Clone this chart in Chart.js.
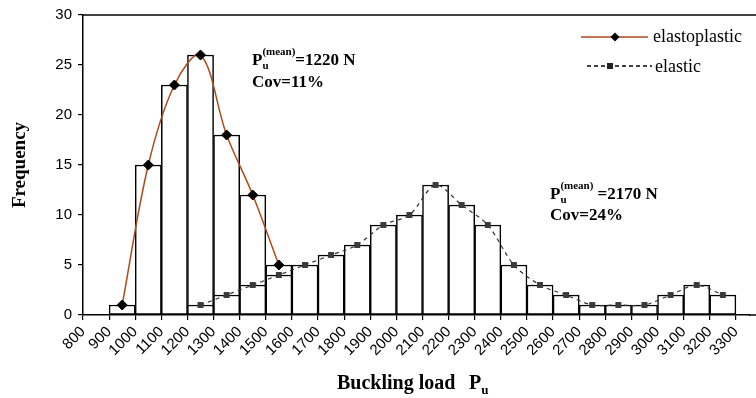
<!DOCTYPE html>
<html><head><meta charset="utf-8">
<script src="https://cdn.jsdelivr.net/npm/chart.js@4/dist/chart.umd.min.js"></script>
<style>html,body{margin:0;padding:0;background:#fff}canvas{display:block}</style>
</head><body>
<canvas id="c" width="756" height="398"></canvas>
<script>
// ---- data (bin centres in N, frequencies) ----
const elastoplasticBins = [950, 1050, 1150, 1250, 1350, 1450, 1550];
const elastoplasticFreq = [1, 15, 23, 26, 18, 12, 5];
const elasticBins = [1250, 1350, 1450, 1550, 1650, 1750, 1850, 1950, 2050, 2150, 2250, 2350, 2450, 2550, 2650, 2750, 2850, 2950, 3050, 3150, 3250];
const elasticFreq = [1, 2, 3, 4, 5, 6, 7, 9, 10, 13, 11, 9, 5, 3, 2, 1, 1, 1, 2, 3, 2];
const xTickValues = [800, 900, 1000, 1100, 1200, 1300, 1400, 1500, 1600, 1700, 1800, 1900, 2000, 2100, 2200, 2300, 2400, 2500, 2600, 2700, 2800, 2900, 3000, 3100, 3200, 3300];
const yTickValues = [0, 5, 10, 15, 20, 25, 30];
const seriesNames = ['elastoplastic', 'elastic'];

const SERIF = '"Liberation Serif", "Times New Roman", serif';
const SANS = '"Liberation Sans", Arial, sans-serif';
const BROWN = '#B04A1A';

const pts = (xs, ys) => xs.map((x, i) => ({x: x, y: ys[i]}));

function drawSubSup(ctx, x, y, base, sub, sup, size, rest) {
  ctx.font = 'bold ' + size + 'px ' + SERIF;
  ctx.fillText(base, x, y);
  let w = ctx.measureText(base).width;
  const small = Math.round(size * 0.65);
  ctx.font = 'bold ' + small + 'px ' + SERIF;
  let ws = 0, wp = 0;
  if (sub) { ctx.fillText(sub, x + w, y + size * 0.25); ws = ctx.measureText(sub).width; }
  if (sup) { ctx.fillText(sup, x + w, y - size * 0.6); wp = ctx.measureText(sup).width; }
  w += Math.max(ws, wp);
  if (rest) {
    ctx.font = 'bold ' + size + 'px ' + SERIF;
    ctx.fillText(rest, x + w, y);
  }
}

const decor = {
  id: 'decor',
  afterDraw(chart) {
    const ctx = chart.ctx, ca = chart.chartArea;
    ctx.save();
    // top frame line and axis extension to the right edge
    ctx.strokeStyle = '#000'; ctx.lineWidth = 1.5;
    ctx.beginPath(); ctx.moveTo(ca.left, ca.top); ctx.lineTo(chart.width, ca.top); ctx.stroke();
    ctx.beginPath(); ctx.moveTo(ca.right - 1, ca.bottom); ctx.lineTo(chart.width, ca.bottom); ctx.stroke();
    ctx.fillStyle = '#000';
    ctx.textBaseline = 'alphabetic';
    ctx.textAlign = 'left';
    // y title
    ctx.save();
    ctx.translate(25, (ca.top + ca.bottom) / 2);
    ctx.rotate(-Math.PI / 2);
    ctx.textAlign = 'center';
    ctx.font = 'bold 19px ' + SERIF;
    ctx.fillText('Frequency', 0, 0);
    ctx.restore();
    // x title
    ctx.font = 'bold 20px ' + SERIF;
    ctx.fillText('Buckling load', 337, 389);
    drawSubSup(ctx, 469, 389, 'P', 'u', null, 20, null);
    // annotations
    drawSubSup(ctx, 252, 65, 'P', 'u', '(mean)', 17, '=1220 N');
    ctx.font = 'bold 17px ' + SERIF; ctx.fillText('Cov=11%', 252, 87);
    drawSubSup(ctx, 550, 199, 'P', 'u', '(mean)', 17, ' =2170 N');
    ctx.font = 'bold 17px ' + SERIF; ctx.fillText('Cov=24%', 550, 220);
    // legend
    ctx.lineWidth = 1.5;
    ctx.strokeStyle = BROWN;
    ctx.beginPath(); ctx.moveTo(581, 37); ctx.lineTo(648, 37); ctx.stroke();
    ctx.fillStyle = '#000';
    ctx.beginPath(); ctx.moveTo(615, 32.5); ctx.lineTo(619.5, 37); ctx.lineTo(615, 41.5); ctx.lineTo(610.5, 37); ctx.closePath(); ctx.fill();
    ctx.strokeStyle = '#000'; ctx.lineWidth = 1.3;
    ctx.setLineDash([4, 3]);
    ctx.beginPath(); ctx.moveTo(587, 66); ctx.lineTo(652, 66); ctx.stroke();
    ctx.setLineDash([]);
    ctx.fillStyle = '#222';
    ctx.fillRect(607, 63, 6, 6);
    ctx.fillStyle = '#000';
    ctx.font = '18px ' + SERIF;
    ctx.fillText(seriesNames[0], 653, 42);
    ctx.fillText(seriesNames[1], 655, 72);
    ctx.restore();
  }
};

new Chart(document.getElementById('c'), {
  type: 'bar',
  data: {
    datasets: [
      { type: 'line', label: seriesNames[0], data: pts(elastoplasticBins, elastoplasticFreq), order: 0,
        borderColor: BROWN, borderWidth: 1.5, tension: 0.35, fill: false,
        pointStyle: 'rectRot', pointRadius: 5, pointBackgroundColor: '#000', pointBorderColor: '#000', pointBorderWidth: 1 },
      { type: 'line', label: seriesNames[1], data: pts(elasticBins, elasticFreq), order: 0,
        borderColor: '#333', borderWidth: 1.2, borderDash: [4, 4], tension: 0.3, fill: false,
        pointStyle: 'rect', pointRadius: 4.2, pointBackgroundColor: '#3a3a3a', pointBorderColor: '#3a3a3a', pointBorderWidth: 0 },
      { type: 'bar', label: seriesNames[1] + ' bars', data: pts(elasticBins, elasticFreq), order: 1, grouped: false,
        backgroundColor: '#fff', borderColor: '#000', borderWidth: 1.5, borderSkipped: false,
        barPercentage: 1, categoryPercentage: 1 },
      { type: 'bar', label: seriesNames[0] + ' bars', data: pts(elastoplasticBins, elastoplasticFreq), order: 2, grouped: false,
        backgroundColor: '#fff', borderColor: '#000', borderWidth: 1.5, borderSkipped: false,
        barPercentage: 1, categoryPercentage: 1 }
    ]
  },
  options: {
    responsive: false,
    animation: false,
    layout: { padding: { top: 15, right: 0, left: 0, bottom: 0 } },
    plugins: { legend: { display: false }, tooltip: { enabled: false } },
    scales: {
      x: {
        type: 'linear', min: 800, max: 3354, offset: false,
        afterBuildTicks: s => { s.ticks = xTickValues.map(v => ({value: v})); },
        afterFit: s => { s.height = 83; s.paddingRight = 0; s.paddingLeft = 0; },
        ticks: { autoSkip: false, maxRotation: 45, minRotation: 45, color: '#000', padding: 3,
                 font: { family: SANS, size: 15 }, callback: v => String(v) },
        grid: { offset: false, drawOnChartArea: false, drawTicks: true, tickLength: 5, color: '#000', lineWidth: 1.2 },
        border: { display: true, color: '#000', width: 1.5 }
      },
      y: {
        min: 0, max: 30,
        afterBuildTicks: s => { s.ticks = yTickValues.map(v => ({value: v})); },
        afterFit: s => { s.width = 83; },
        ticks: { color: '#000', padding: 6, font: { family: SANS, size: 15 } },
        grid: { drawOnChartArea: false, drawTicks: true, tickLength: 5, color: '#000', lineWidth: 1.2 },
        border: { display: true, color: '#000', width: 1.5 }
      }
    }
  },
  plugins: [decor]
});
</script>
</body></html>
